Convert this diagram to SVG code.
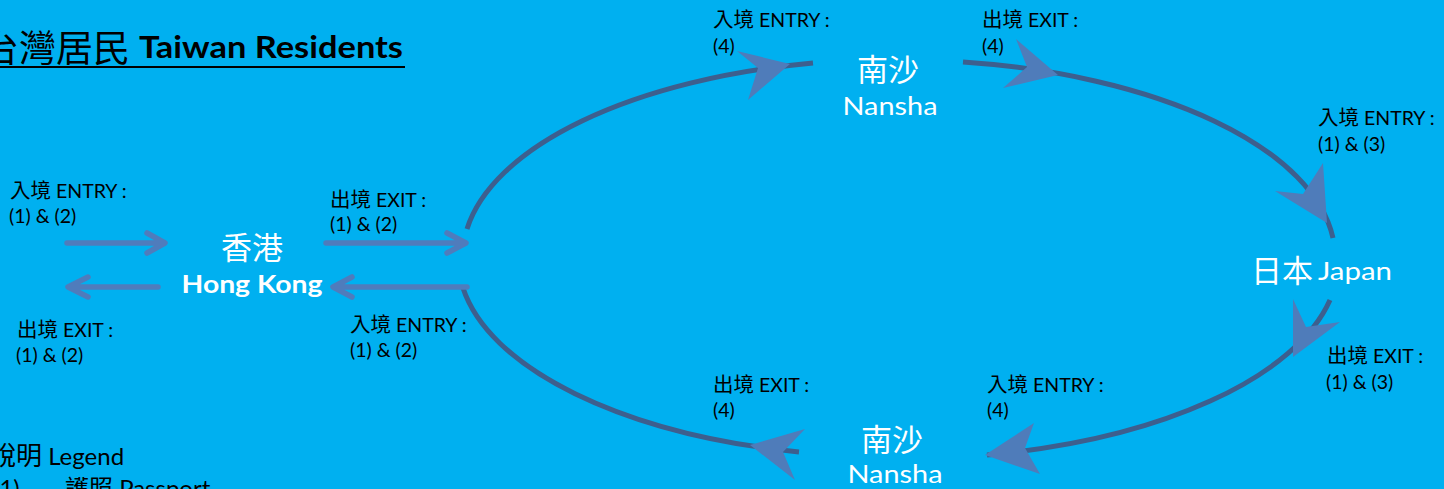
<svg xmlns="http://www.w3.org/2000/svg" width="1444" height="489" viewBox="0 0 1444 489">
<style>
.lbl{font-family:Lato,"Liberation Sans","Noto Sans CJK TC",sans-serif;font-size:19.5px;fill:#000}
.cj{font-family:"Noto Sans CJK TC",sans-serif;font-size:20.5px}
.nodecj{font-family:"Noto Sans CJK TC",sans-serif;font-size:31px;fill:#fff}
.node{font-family:Lato,"Liberation Sans",sans-serif;font-size:25px;fill:#fff}
.arc{fill:none;stroke:#3d5f8e;stroke-width:5}
.head{fill:#4f7cba}
.sa{fill:none;stroke:#4f7cbc;stroke-width:5.5;stroke-linecap:round;stroke-linejoin:round}
</style>
<rect width="1444" height="489" fill="#00b0f0"/>

<g id="title">
<text x="-18" y="62" style="font-family:'Noto Sans CJK TC',sans-serif;font-size:37px;fill:#000">台灣居民</text>
<text x="139" y="58" textLength="264" lengthAdjust="spacingAndGlyphs" style="font-family:Lato,'Liberation Sans',sans-serif;font-weight:bold;font-size:30px;fill:#000">Taiwan Residents</text>
<line x1="0" y1="67" x2="405" y2="67" stroke="#000" stroke-width="2"/>
</g>

<g id="connectors">
<path class="arc" d="M467,229 A436,198 0 0 1 813,63"/>
<path class="arc" d="M963,62 A436,198 0 0 1 1333,238"/>
<path class="arc" d="M1330,300 A436,198 0 0 1 987,455"/>
<path class="arc" d="M799,452 A436,198 0 0 1 463,288"/>
<polygon class="head" points="790,64 737,51 758,68 748,100"/>
<polygon class="head" points="1058,75 1016,39 1027,67 1003,88"/>
<polygon class="head" points="1327,223 1323,163 1303,194 1275,191"/>
<polygon class="head" points="1293,357 1293,299 1306,327 1340,322"/>
<polygon class="head" points="750,445 805,429 783,452 795,480"/>
<polygon class="head" points="985,455 1034,423 1025,448 1040,474"/>
<path class="sa" d="M67,243 H164 M147,233 L165,243 L147,253"/>
<path class="sa" d="M158,287 H69 M88,277 L68,287 L88,297"/>
<path class="sa" d="M326,243 H465 M447,233 L466,243 L447,253"/>
<path class="sa" d="M467,287 H334 M352,277 L333,287 L352,297"/>
</g>

<g id="hongkong">
<text class="nodecj" x="252" y="259" text-anchor="middle">香港</text>
<text class="node" x="252" y="293" text-anchor="middle" font-weight="bold" textLength="141" lengthAdjust="spacingAndGlyphs">Hong Kong</text>
</g>
<g id="nansha-top">
<text class="nodecj" x="888" y="81" text-anchor="middle">南沙</text>
<text class="node" x="890" y="115" text-anchor="middle" textLength="95" lengthAdjust="spacingAndGlyphs">Nansha</text>
</g>
<g id="japan">
<text class="nodecj" x="1251" y="282">日本</text>
<text class="node" x="1318" y="280" textLength="74" lengthAdjust="spacingAndGlyphs">Japan</text>
</g>
<g id="nansha-bottom">
<text class="nodecj" x="892" y="451" text-anchor="middle">南沙</text>
<text class="node" x="895" y="483" text-anchor="middle" textLength="95" lengthAdjust="spacingAndGlyphs">Nansha</text>
</g>

<g id="labels">
<text class="lbl" x="10" y="198"><tspan class="cj">入境</tspan> ENTRY :</text>
<text class="lbl" x="9" y="223">(1) &amp; (2)</text>
<text class="lbl" x="330" y="207"><tspan class="cj">出境</tspan> EXIT :</text>
<text class="lbl" x="330" y="231">(1) &amp; (2)</text>
<text class="lbl" x="17" y="337"><tspan class="cj">出境</tspan> EXIT :</text>
<text class="lbl" x="16" y="362">(1) &amp; (2)</text>
<text class="lbl" x="350" y="332"><tspan class="cj">入境</tspan> ENTRY :</text>
<text class="lbl" x="350" y="357">(1) &amp; (2)</text>
<text class="lbl" x="713" y="27"><tspan class="cj">入境</tspan> ENTRY :</text>
<text class="lbl" x="713" y="53">(4)</text>
<text class="lbl" x="982" y="27"><tspan class="cj">出境</tspan> EXIT :</text>
<text class="lbl" x="982" y="53">(4)</text>
<text class="lbl" x="1318" y="125"><tspan class="cj">入境</tspan> ENTRY :</text>
<text class="lbl" x="1318" y="151">(1) &amp; (3)</text>
<text class="lbl" x="1327" y="363"><tspan class="cj">出境</tspan> EXIT :</text>
<text class="lbl" x="1326" y="389">(1) &amp; (3)</text>
<text class="lbl" x="713" y="392"><tspan class="cj">出境</tspan> EXIT :</text>
<text class="lbl" x="713" y="417">(4)</text>
<text class="lbl" x="987" y="392"><tspan class="cj">入境</tspan> ENTRY :</text>
<text class="lbl" x="987" y="417">(4)</text>
</g>

<g id="legend">
<text class="lbl" x="-10" y="465" style="font-size:24px"><tspan class="cj" style="font-size:26px">說明</tspan> Legend</text>
<text class="lbl" x="-7" y="497" style="font-size:24px">(1)</text>
<text class="lbl" x="65" y="497" style="font-size:24px"><tspan class="cj" style="font-size:24px">護照</tspan> Passport</text>
</g>
</svg>
